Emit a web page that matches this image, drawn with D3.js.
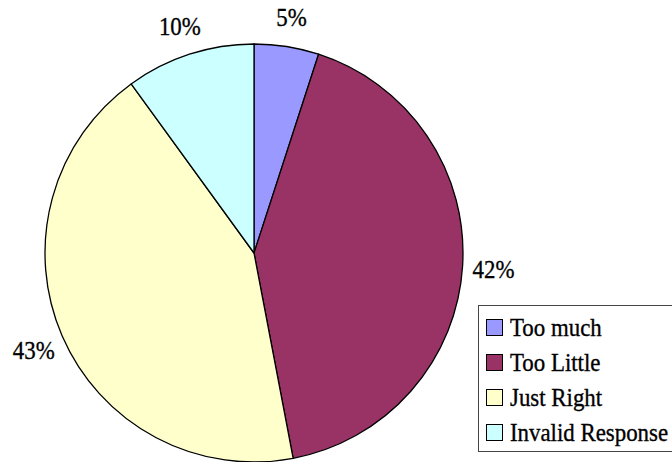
<!DOCTYPE html>
<html>
<head>
<meta charset="utf-8">
<script src="https://cdn.jsdelivr.net/npm/d3@7"></script>
<style>
  html, body { margin: 0; padding: 0; background: #fff; }
  svg { display: block; }
</style>
</head>
<body>
<svg id="chart" width="672" height="462"></svg>
<script>
// Survey responses
const categories = ["Too much", "Too Little", "Just Right", "Invalid Response"];
const values = [5, 42, 43, 10];
const colors = ["#9999ff", "#993366", "#ffffcc", "#ccffff"];
const pctLabels = ["5%", "42%", "43%", "10%"];

const FONT = "Liberation Serif";

const svg = d3.select("#chart");

const cx = 254, cy = 253, radius = 209;

const data = categories.map((c, i) => ({ category: c, value: values[i], color: colors[i], label: pctLabels[i] }));

const pie = d3.pie().value(d => d.value).sort(null);
const arc = d3.arc().innerRadius(0).outerRadius(radius);
const labelArc = d3.arc().innerRadius(240).outerRadius(240);

const g = svg.append("g").attr("transform", `translate(${cx},${cy})`);
const arcs = pie(data);

g.selectAll("path.slice")
  .data(arcs)
  .enter().append("path")
  .attr("class", "slice")
  .attr("d", arc)
  .attr("fill", d => d.data.color)
  .attr("stroke", "#000")
  .attr("stroke-width", 1.3)
  .attr("stroke-linejoin", "round");

// Percentage labels outside the slices
g.selectAll("text.pct")
  .data(arcs)
  .enter().append("text")
  .attr("class", "pct")
  .attr("transform", d => {
    const [x, y] = labelArc.centroid(d);
    return `translate(${x},${y}) scale(0.88,1)`;
  })
  .attr("text-anchor", "middle")
  .attr("dy", "0.4em")
  .attr("font-family", FONT)
  .attr("font-size", 26)
  .attr("fill", "#000")
  .attr("stroke", "#000")
  .attr("stroke-width", 0.35)
  .text(d => d.data.label);

// Legend
const legend = svg.append("g").attr("transform", "translate(478,305)");
legend.append("rect")
  .attr("x", 0.5).attr("y", 0.5)
  .attr("width", 210).attr("height", 146)
  .attr("fill", "#fff")
  .attr("stroke", "#444")
  .attr("stroke-width", 1);

const rowY = d3.scaleLinear().domain([0, 1]).range([14, 49]);

const rows = legend.selectAll("g.row")
  .data(data)
  .enter().append("g")
  .attr("class", "row")
  .attr("transform", (d, i) => `translate(0,${rowY(i)})`);

rows.append("rect")
  .attr("x", 8.5).attr("y", 0.5)
  .attr("width", 16).attr("height", 16)
  .attr("fill", d => d.color)
  .attr("stroke", "#000")
  .attr("stroke-width", 1);

rows.append("text")
  .attr("transform", "translate(32,17) scale(0.88,1)")
  .attr("font-family", FONT)
  .attr("font-size", 26)
  .attr("fill", "#000")
  .attr("stroke", "#000")
  .attr("stroke-width", 0.35)
  .text(d => d.category);
</script>
</body>
</html>
